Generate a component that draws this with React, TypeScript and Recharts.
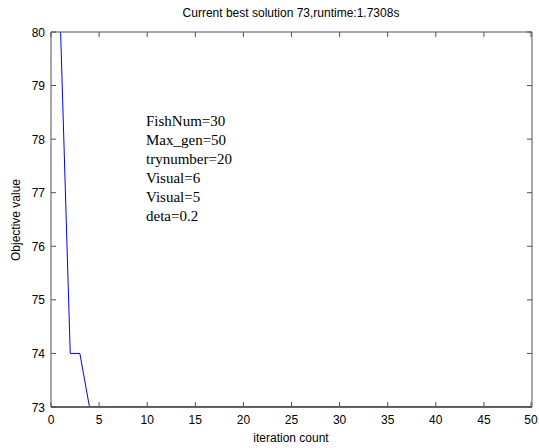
import { Line, LineChart, ReferenceLine, XAxis, YAxis } from "recharts";

const iterations = [
  1, 2, 3, 4, 5, 6, 7, 8, 9, 10, 11, 12, 13, 14, 15, 16, 17, 18, 19, 20, 21,
  22, 23, 24, 25, 26, 27, 28, 29, 30, 31, 32, 33, 34, 35, 36, 37, 38, 39, 40,
  41, 42, 43, 44, 45, 46, 47, 48, 49, 50,
];
const bestValues = [
  80, 74, 74, 73, 73, 73, 73, 73, 73, 73, 73, 73, 73, 73, 73, 73, 73, 73, 73,
  73, 73, 73, 73, 73, 73, 73, 73, 73, 73, 73, 73, 73, 73, 73, 73, 73, 73, 73,
  73, 73, 73, 73, 73, 73, 73, 73, 73, 73, 73, 73,
];
const xTicks = [0, 5, 10, 15, 20, 25, 30, 35, 40, 45, 50];
const yTicks = [73, 74, 75, 76, 77, 78, 79, 80];
const paramLines = [
  "FishNum=30",
  "Max_gen=50",
  "trynumber=20",
  "Visual=6",
  "Visual=5",
  "deta=0.2",
];
const title = "Current best solution 73,runtime:1.7308s";

const data = iterations.map((it, i) => ({ it, value: bestValues[i] }));

const AXIS = "#505050";
const FONT = "'Liberation Sans', Arial, sans-serif";

const BottomTick = ({ x, y, payload }: any) => (
  <g>
    <line x1={x} y1={y} x2={x} y2={y - 5} stroke={AXIS} />
    <text x={x} y={y + 17} textAnchor="middle" fontSize={12} fontFamily={FONT} fill="#000">
      {payload.value}
    </text>
  </g>
);
const TopTick = ({ x, y }: any) => (
  <line x1={x} y1={y} x2={x} y2={y + 5} stroke={AXIS} />
);
const LeftTick = ({ x, y, payload }: any) => (
  <g>
    <line x1={x} y1={y} x2={x + 5} y2={y} stroke={AXIS} />
    <text x={x - 6} y={y + 4.5} textAnchor="end" fontSize={12} fontFamily={FONT} fill="#000">
      {payload.value}
    </text>
  </g>
);
const RightTick = ({ x, y }: any) => (
  <line x1={x} y1={y} x2={x - 5} y2={y} stroke={AXIS} />
);

export default function App() {
  return (
    <div style={{ position: "absolute", left: 0, top: 0, width: 539, height: 448, background: "#fff" }}>
      <LineChart
        width={539}
        height={448}
        data={data}
        margin={{ top: 0, right: 0, left: 0, bottom: 0 }}
      >
        <XAxis
          xAxisId="bottom"
          dataKey="it"
          type="number"
          domain={[0, 50]}
          ticks={xTicks}
          allowDataOverflow
          height={41}
          tickSize={0}
          tickMargin={0}
          tick={<BottomTick />}
          axisLine={{ stroke: AXIS }}
          tickLine={false}
        />
        <XAxis
          xAxisId="top"
          orientation="top"
          dataKey="it"
          type="number"
          domain={[0, 50]}
          ticks={xTicks}
          allowDataOverflow
          height={32}
          tickSize={0}
          tickMargin={0}
          tick={<TopTick />}
          axisLine={{ stroke: AXIS }}
          tickLine={false}
        />
        <YAxis
          yAxisId="left"
          type="number"
          domain={[73, 80]}
          ticks={yTicks}
          allowDataOverflow
          width={51}
          tickSize={0}
          tickMargin={0}
          tick={<LeftTick />}
          axisLine={{ stroke: AXIS }}
          tickLine={false}
        />
        <YAxis
          yAxisId="right"
          orientation="right"
          type="number"
          domain={[73, 80]}
          ticks={yTicks}
          allowDataOverflow
          width={7}
          tickSize={0}
          tickMargin={0}
          tick={<RightTick />}
          axisLine={{ stroke: AXIS }}
          tickLine={false}
        />
        <Line
          xAxisId="bottom"
          yAxisId="left"
          type="linear"
          dataKey="value"
          stroke="#0000ff"
          strokeWidth={1}
          dot={false}
          activeDot={false}
          isAnimationActive={false}
        />
        <ReferenceLine
          xAxisId="bottom"
          yAxisId="left"
          y={73}
          stroke={AXIS}
          strokeWidth={1.5}
          zIndex={2000}
        />
        <text x={291} y={17} textAnchor="middle" fontSize={12} fontFamily={FONT} fill="#000">
          {title}
        </text>
        <text x={291} y={442} textAnchor="middle" fontSize={12} fontFamily={FONT} fill="#000">
          iteration count
        </text>
        <text
          x={0}
          y={0}
          transform="translate(20 220) rotate(-90)"
          textAnchor="middle"
          fontSize={12}
          fontFamily={FONT}
          fill="#000"
        >
          Objective value
        </text>
        {paramLines.map((t, i) => (
          <text
            key={i}
            x={146}
            y={126 + i * 19}
            fontSize={15}
            fontFamily="'Liberation Serif', 'Times New Roman', serif"
            fill="#000"
          >
            {t}
          </text>
        ))}
      </LineChart>
    </div>
  );
}
